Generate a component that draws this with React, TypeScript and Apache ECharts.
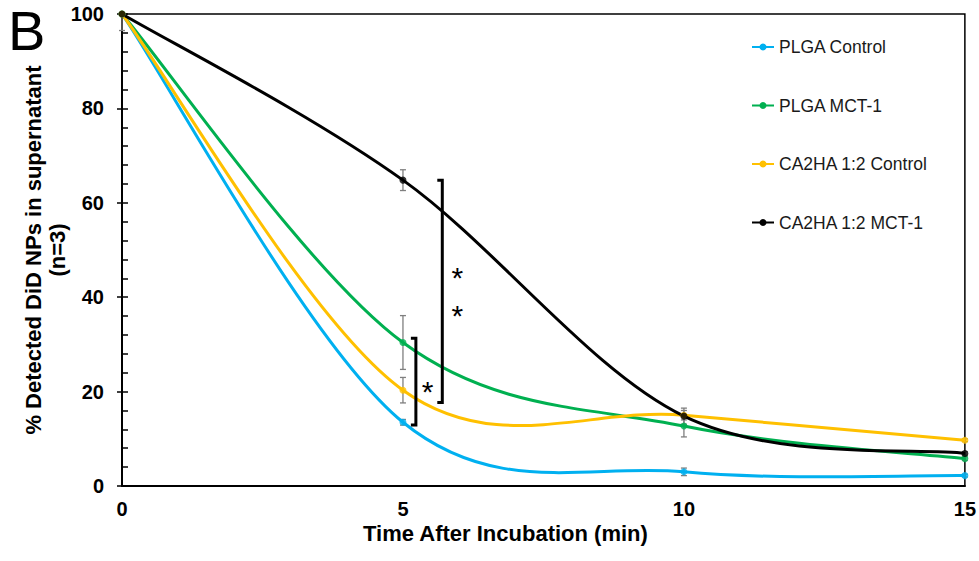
import React, { useEffect, useRef } from "react";
import * as echarts from "echarts";

const xValues = [0, 5, 10, 15];
const seriesNames = ["PLGA Control", "PLGA MCT-1", "CA2HA 1:2 Control", "CA2HA 1:2 MCT-1"];
const seriesColors = ["#00B0F0", "#00B050", "#FFC000", "#000000"];
const plgaControl = [100, 13.5, 3.0, 2.2];
const plgaMct1 = [100, 30.4, 12.7, 5.8];
const ca2haControl = [100, 20.3, 15.0, 9.7];
const ca2haMct1 = [100, 64.8, 14.8, 6.9];
const plgaControlErr = [0, 0.6, 0.8, 0.3];
const plgaMct1Err = [0, 5.7, 2.3, 0.4];
const ca2haControlErr = [0, 2.7, 1.0, 0.3];
const ca2haMct1Err = [3.5, 2.2, 1.7, 0.4];
const yTicks = [0, 20, 40, 60, 80, 100];
const xTicks = [0, 5, 10, 15];

// significance brackets: x position, low, high
const bracketX = [5.23, 5.7];
const bracketLow = [12.9, 17.7];
const bracketHigh = [31.3, 64.8];
const starX = [5.44, 5.97];
const starYs = [[21.4], [45.7, 37.6]];

const FONT = "'Liberation Sans', Arial, sans-serif";

export default function App() {
  const ref = useRef<HTMLDivElement>(null);
  useEffect(() => {
    if (!ref.current) return;
    const chart = echarts.init(ref.current, undefined, { renderer: "svg" });
    const allValues = [plgaControl, plgaMct1, ca2haControl, ca2haMct1];
    const allErr = [plgaControlErr, plgaMct1Err, ca2haControlErr, ca2haMct1Err];
    const yMax = yTicks[yTicks.length - 1];

    const curveSeries = allValues.map((vals, si) => ({
      type: "custom",
      name: seriesNames[si],
      z: 3,
      data: xValues.map((x, i) => [x, vals[i]]),
      renderItem: (params: any, api: any) => {
        if (params.dataIndex !== 0) return null;
        const pts = xValues.map((x, i) => api.coord([x, vals[i]]));
        const n = pts.length;
        let d = `M${pts[0][0]},${pts[0][1]}`;
        for (let i = 0; i < n - 1; i++) {
          const p0 = pts[Math.max(i - 1, 0)];
          const p1 = pts[i];
          const p2 = pts[i + 1];
          const p3 = pts[Math.min(i + 2, n - 1)];
          const c1x = p1[0] + (p2[0] - p0[0]) / 6;
          const c1y = p1[1] + (p2[1] - p0[1]) / 6;
          const c2x = p2[0] - (p3[0] - p1[0]) / 6;
          const c2y = p2[1] - (p3[1] - p1[1]) / 6;
          d += ` C${c1x},${c1y} ${c2x},${c2y} ${p2[0]},${p2[1]}`;
        }
        return {
          type: "path",
          shape: { pathData: d },
          style: { stroke: seriesColors[si], lineWidth: 3, fill: "none" },
        };
      },
    }));

    const errSeries = allValues.map((vals, si) => ({
      type: "custom",
      name: seriesNames[si] + " err",
      z: 2,
      data: xValues.map((x, i) => [x, vals[i], allErr[si][i]]),
      renderItem: (params: any, api: any) => {
        const x = api.value(0);
        const v = api.value(1);
        const e = api.value(2);
        if (!e) return null;
        const hi = Math.min(v + e, yMax);
        const lo = v - e;
        const pHi = api.coord([x, hi]);
        const pLo = api.coord([x, lo]);
        const w = 3;
        const style = { stroke: "#7F7F7F", lineWidth: 1.3, fill: "none" };
        const children: any[] = [
          { type: "line", shape: { x1: pHi[0], y1: pHi[1], x2: pLo[0], y2: pLo[1] }, style },
          { type: "line", shape: { x1: pLo[0] - w, y1: pLo[1], x2: pLo[0] + w, y2: pLo[1] }, style },
        ];
        if (v + e <= yMax) {
          children.push({ type: "line", shape: { x1: pHi[0] - w, y1: pHi[1], x2: pHi[0] + w, y2: pHi[1] }, style });
        }
        return { type: "group", children };
      },
    }));

    const markerSeries = allValues.map((vals, si) => ({
      type: "scatter",
      name: seriesNames[si],
      z: 4,
      symbol: "circle",
      symbolSize: 7,
      itemStyle: { color: seriesColors[si] },
      data: xValues.map((x, i) => [x, vals[i]]),
    }));

    const bracketSeries = {
      type: "custom",
      name: "brackets",
      z: 5,
      data: bracketX.map((x, i) => [x, bracketLow[i], bracketHigh[i], i]),
      renderItem: (params: any, api: any) => {
        const i = params.dataIndex;
        const pTop = api.coord([bracketX[i], bracketHigh[i]]);
        const pBot = api.coord([bracketX[i], bracketLow[i]]);
        const s = 5;
        const children: any[] = [
          {
            type: "polyline",
            shape: {
              points: [
                [pTop[0] - s, pTop[1]],
                [pTop[0], pTop[1]],
                [pBot[0], pBot[1]],
                [pBot[0] - s, pBot[1]],
              ],
            },
            style: { stroke: "#000", lineWidth: 3, fill: "none" },
          },
        ];
        starYs[i].forEach((sy) => {
          const p = api.coord([starX[i], sy]);
          children.push({
            type: "text",
            x: p[0],
            y: p[1] + 7,
            style: {
              text: "*",
              fill: "#000",
              font: `30px ${FONT}`,
              align: "center",
              verticalAlign: "middle",
            },
          });
        });
        return { type: "group", children };
      },
    };

    const iconPath =
      "path://M0,3.6 L22,3.6 L22,5.4 L0,5.4 Z M11,1 A3.5,3.5 0 1 1 10.99,1 Z";

    const option: any = {
      animation: false,
      backgroundColor: "#fff",
      grid: {
        left: 122,
        right: 14,
        top: 14,
        bottom: 75,
        show: true,
        borderColor: "#000",
        borderWidth: 1.5,
        backgroundColor: "transparent",
      },
      legend: {
        orient: "vertical",
        left: 747,
        top: 33,
        itemWidth: 22,
        itemHeight: 7,
        itemGap: 40.5,
        textStyle: { fontFamily: FONT, fontSize: 17.5, color: "#1a1a1a" },
        data: seriesNames.map((n, i) => ({
          name: n,
          icon: iconPath,
          itemStyle: { color: seriesColors[i] },
        })),
      },
      graphic: [
        {
          type: "text",
          left: 8,
          top: 2,
          style: { text: "B", font: `56px ${FONT}`, fill: "#000" },
        },
      ],
      xAxis: {
        type: "value",
        min: xTicks[0],
        max: xTicks[xTicks.length - 1],
        interval: 5,
        name: "Time After Incubation (min)",
        nameLocation: "middle",
        nameGap: 36,
        nameMoveOverlap: false,
        nameTextStyle: {
          fontFamily: FONT,
          fontSize: 22,
          fontWeight: "bold",
          color: "#000",
          padding: [0, 76, 0, 0],
        },
        axisLine: { show: true, lineStyle: { color: "#000", width: 2 } },
        axisTick: { show: false },
        splitLine: { show: false },
        axisLabel: { fontFamily: FONT, fontSize: 20, fontWeight: "bold", color: "#000", margin: 13 },
      },
      yAxis: [
        {
          type: "value",
          min: yTicks[0],
          max: yMax,
          interval: 20,
          name: "% Detected DiD NPs in supernatant\n(n=3)",
          nameLocation: "middle",
          nameGap: 53,
          nameMoveOverlap: false,
          nameTextStyle: {
            fontFamily: FONT,
            fontSize: 22,
            fontWeight: "bold",
            color: "#000",
            lineHeight: 24,
            align: "center",
          },
          axisLine: { show: true, lineStyle: { color: "#000", width: 2 } },
          axisTick: { show: true, inside: false, length: 5, lineStyle: { color: "#000", width: 1.5 } },
          minorTick: { show: false },
          splitLine: { show: false },
          axisLabel: { fontFamily: FONT, fontSize: 20, fontWeight: "bold", color: "#000", margin: 18 },
        },
        {
          type: "value",
          position: "left",
          min: yTicks[0],
          max: yMax,
          interval: 20,
          axisLine: { show: false },
          axisTick: { show: true, inside: true, length: 6, lineStyle: { color: "#000", width: 1.5 } },
          minorTick: { show: true, splitNumber: 5, length: 6, lineStyle: { color: "#000", width: 1.5 } },
          axisLabel: { show: false },
          splitLine: { show: false },
        },
      ],
      series: [...errSeries, ...curveSeries, ...markerSeries, bracketSeries],
    };
    chart.setOption(option);
    return () => chart.dispose();
  }, []);
  return (
    <div
      ref={ref}
      style={{ position: "absolute", left: 0, top: 0, width: 979, height: 561 }}
    />
  );
}
